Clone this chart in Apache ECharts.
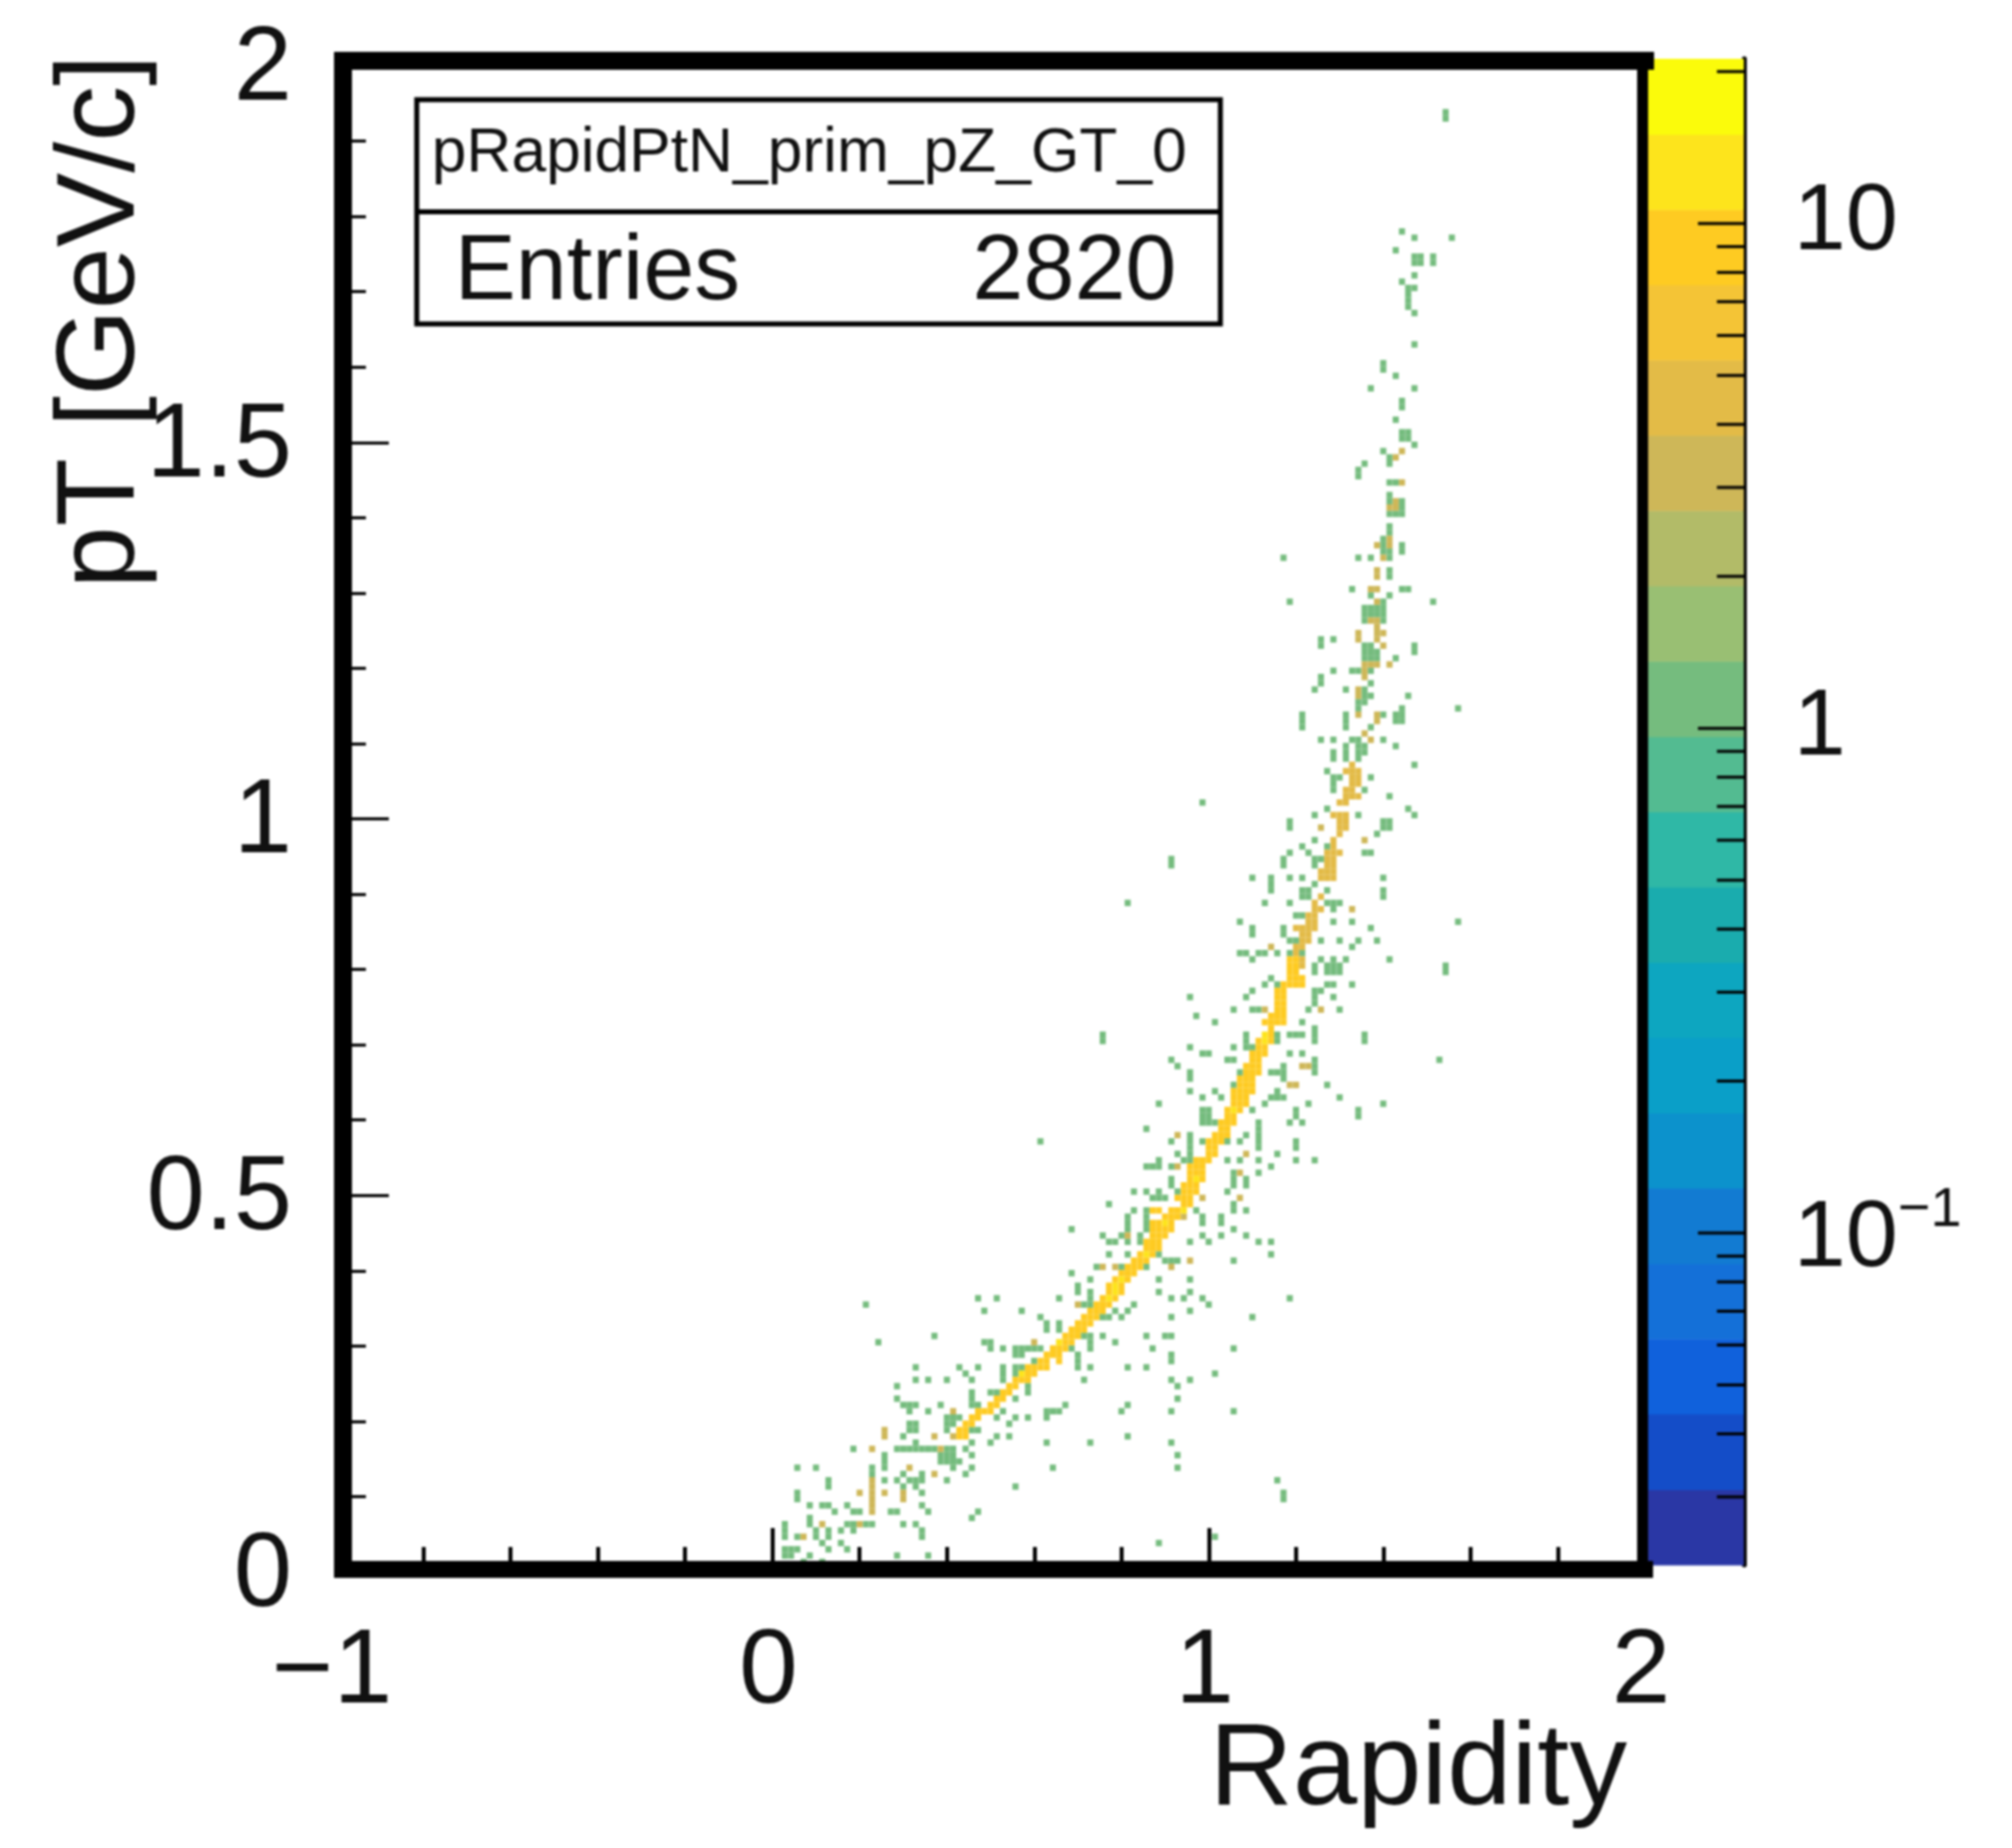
<!DOCTYPE html>
<html><head><meta charset="utf-8">
<style>html,body{margin:0;padding:0;background:#fff}#chart{width:2018px;height:1854px;filter:blur(1.1px)}</style>
<script src="https://cdn.jsdelivr.net/npm/echarts@6/dist/echarts.min.js"></script>
</head><body><div id="chart"></div>
<script>
// Histogram cells: [rapidity, pT], grouped by bin content
const cellsCount1 = [
[1.541,1.933],[1.541,1.925],[1.442,1.776],[1.471,1.768],[1.557,1.768],[1.427,1.751],[1.471,1.739],[1.485,1.739],[1.471,1.733],[1.485,1.733],[1.513,1.742],[1.513,1.734],[1.471,1.718],[1.442,1.710],[1.457,1.701],[1.471,1.701],[1.457,1.692],[1.457,1.684],[1.457,1.676],[1.471,1.668],[1.471,1.628],[1.398,1.602],[1.398,1.594],[1.427,1.586],[1.371,1.569],[1.471,1.569],[1.442,1.554],[1.442,1.544],[1.427,1.528],[1.442,1.511],[1.457,1.511],[1.442,1.503],[1.457,1.503],[1.471,1.495],[1.398,1.487],[1.413,1.478],[1.413,1.470],[1.356,1.470],[1.342,1.462],[1.342,1.454],[1.413,1.445],[1.427,1.445],[1.413,1.429],[1.413,1.420],[1.442,1.420],[1.442,1.412],[1.413,1.404],[1.427,1.404],[1.442,1.404],[1.427,1.396],[1.413,1.387],[1.413,1.378],[1.398,1.370],[1.398,1.362],[1.413,1.354],[1.398,1.354],[1.442,1.362],[1.442,1.354],[1.442,1.346],[1.398,1.346],[1.413,1.338],[1.342,1.338],[1.371,1.338],[1.413,1.329],[1.413,1.320],[1.413,1.313],[1.328,1.304],[1.371,1.304],[1.442,1.304],[1.457,1.304],[1.371,1.288],[1.413,1.288],[1.398,1.280],[1.185,1.280],[1.513,1.280],[1.356,1.273],[1.371,1.273],[1.385,1.273],[1.398,1.273],[1.356,1.264],[1.371,1.264],[1.385,1.264],[1.398,1.264],[1.356,1.256],[1.398,1.256],[1.171,1.345],[1.256,1.230],[1.256,1.222],[1.285,1.230],[1.471,1.224],[1.471,1.216],[1.356,1.225],[1.371,1.225],[1.356,1.217],[1.371,1.217],[1.385,1.217],[1.356,1.209],[1.371,1.209],[1.385,1.209],[1.427,1.205],[1.285,1.189],[1.328,1.189],[1.342,1.189],[1.371,1.189],[1.256,1.180],[1.256,1.172],[1.241,1.164],[1.313,1.164],[1.371,1.175],[1.356,1.164],[1.356,1.156],[1.371,1.156],[1.342,1.148],[1.356,1.148],[1.342,1.139],[1.457,1.156],[1.570,1.139],[1.400,1.130],[1.214,1.130],[1.214,1.122],[1.214,1.115],[1.313,1.130],[1.313,1.122],[1.313,1.115],[1.442,1.139],[1.442,1.130],[1.442,1.122],[1.427,1.130],[1.427,1.122],[1.371,1.113],[1.256,1.098],[1.285,1.098],[1.398,1.098],[1.328,1.098],[1.342,1.098],[1.356,1.106],[1.427,1.089],[1.313,1.089],[1.313,1.081],[1.313,1.073],[1.342,1.089],[1.356,1.089],[1.342,1.081],[1.356,1.081],[1.342,1.073],[1.285,1.080],[1.285,1.072],[1.471,1.064],[1.270,1.056],[1.285,1.047],[1.285,1.040],[1.285,1.030],[1.299,1.047],[1.371,1.047],[1.356,1.037],[1.356,1.030],[1.413,1.024],[0.984,1.015],[1.270,1.007],[1.457,1.007],[1.471,0.998],[1.241,0.998],[1.342,0.998],[1.185,0.990],[1.185,0.982],[1.313,0.987],[1.398,0.990],[1.413,0.990],[1.398,0.982],[1.413,0.982],[1.385,0.974],[1.241,0.965],[1.214,0.957],[1.228,0.949],[1.185,0.949],[1.270,0.957],[1.307,0.949],[1.356,0.949],[1.371,0.949],[1.171,0.940],[1.171,0.932],[1.241,0.940],[1.256,0.940],[1.241,0.932],[1.099,0.916],[1.185,0.916],[1.214,0.916],[1.398,0.916],[1.142,0.916],[1.142,0.908],[1.142,0.900],[1.228,0.900],[1.214,0.899],[1.228,0.891],[1.214,0.891],[1.241,0.908],[1.398,0.900],[1.398,0.892],[1.270,0.900],[0.813,0.883],[0.914,0.940],[0.914,0.932],[1.128,0.883],[1.185,0.883],[1.270,0.880],[1.285,0.880],[1.299,0.880],[1.285,0.872],[1.285,0.860],[1.214,0.865],[1.200,0.865],[1.328,0.858],[1.070,0.858],[1.570,0.857],[1.099,0.850],[1.099,0.840],[1.171,0.850],[1.171,0.840],[1.185,0.834],[1.200,0.834],[1.371,0.849],[1.385,0.833],[1.299,0.833],[1.328,0.825],[1.342,0.833],[1.250,0.832],[1.070,0.817],[1.085,0.817],[1.099,0.808],[1.113,0.820],[1.128,0.820],[1.157,0.817],[1.214,0.817],[1.185,0.817],[1.241,0.800],[1.241,0.792],[1.256,0.808],[1.270,0.800],[1.285,0.800],[1.299,0.800],[1.285,0.808],[1.270,0.792],[1.285,0.792],[1.299,0.792],[1.313,0.808],[1.413,0.808],[1.541,0.800],[1.541,0.792],[1.142,0.784],[1.124,0.774],[1.157,0.774],[1.270,0.775],[1.285,0.775],[1.328,0.775],[1.241,0.766],[1.256,0.766],[1.241,0.758],[1.241,0.750],[1.100,0.766],[1.085,0.756],[1.099,0.743],[1.113,0.743],[1.285,0.756],[1.299,0.743],[1.228,0.743],[0.956,0.756],[1.057,0.743],[0.970,0.733],[1.013,0.726],[1.214,0.728],[1.241,0.720],[1.241,0.712],[1.241,0.704],[1.200,0.705],[1.214,0.705],[1.185,0.705],[0.757,0.705],[0.757,0.697],[1.356,0.705],[1.356,0.697],[1.085,0.708],[1.085,0.700],[1.085,0.692],[1.099,0.690],[1.157,0.708],[1.157,0.700],[0.956,0.693],[1.057,0.693],[1.000,0.684],[0.986,0.684],[1.185,0.684],[1.214,0.684],[1.042,0.676],[1.057,0.676],[0.914,0.676],[0.928,0.667],[1.241,0.676],[1.241,0.667],[1.241,0.655],[1.528,0.676],[1.171,0.668],[1.171,0.660],[1.171,0.652],[1.157,0.662],[1.070,0.657],[1.142,0.655],[0.956,0.660],[0.956,0.652],[1.270,0.643],[0.956,0.635],[1.013,0.635],[1.028,0.627],[0.984,0.627],[1.142,0.627],[1.157,0.635],[1.171,0.627],[1.157,0.627],[1.057,0.642],[1.299,0.627],[1.128,0.618],[0.885,0.618],[1.228,0.618],[1.398,0.618],[1.342,0.610],[1.342,0.600],[1.099,0.606],[1.200,0.610],[0.985,0.610],[1.000,0.610],[0.985,0.600],[1.000,0.600],[0.985,0.594],[1.000,0.594],[1.013,0.590],[1.185,0.592],[1.214,0.592],[1.200,0.600],[0.856,0.585],[0.613,0.570],[0.613,0.563],[1.113,0.594],[1.113,0.586],[1.113,0.578],[1.113,0.570],[1.113,0.560],[1.085,0.576],[1.200,0.570],[1.200,0.560],[0.914,0.564],[0.956,0.576],[0.956,0.568],[0.956,0.560],[0.956,0.552],[0.956,0.540],[0.990,0.564],[1.042,0.564],[1.070,0.564],[1.157,0.551],[0.928,0.551],[0.942,0.538],[0.956,0.538],[0.856,0.535],[0.870,0.535],[0.885,0.535],[0.885,0.543],[1.042,0.543],[1.070,0.543],[1.113,0.543],[1.200,0.543],[1.241,0.543],[0.914,0.535],[1.142,0.535],[1.113,0.527],[1.057,0.526],[1.057,0.518],[1.057,0.510],[1.085,0.520],[1.085,0.512],[0.914,0.518],[0.914,0.511],[0.827,0.502],[0.856,0.502],[1.042,0.502],[0.885,0.500],[0.870,0.493],[0.885,0.493],[0.900,0.493],[0.928,0.500],[0.771,0.486],[1.057,0.485],[1.057,0.478],[1.085,0.478],[0.827,0.477],[0.812,0.470],[0.812,0.462],[0.812,0.450],[0.856,0.477],[0.856,0.468],[0.856,0.460],[0.856,0.450],[0.970,0.477],[0.984,0.470],[0.984,0.460],[1.028,0.470],[1.028,0.460],[0.686,0.452],[0.757,0.445],[1.057,0.452],[1.085,0.445],[0.984,0.445],[1.028,0.445],[0.800,0.445],
[0.684,0.453],[0.756,0.444],[0.815,0.454],[0.815,0.441],[0.815,0.430],[0.815,0.420],[0.797,0.443],[0.780,0.436],[0.771,0.430],[0.771,0.420],[0.837,0.440],[0.837,0.430],[0.837,0.420],[0.837,0.413],[0.885,0.430],[0.885,0.420],[0.957,0.436],[0.985,0.441],[0.999,0.436],[1.029,0.444],[1.057,0.452],[1.086,0.444],[1.112,0.436],[1.143,0.430],[1.143,0.420],[1.057,0.411],[0.898,0.410],[0.912,0.410],[0.933,0.410],[0.740,0.396],[0.793,0.399],[0.863,0.396],[0.684,0.388],[0.697,0.379],[0.697,0.370],[0.727,0.381],[0.727,0.370],[0.727,0.360],[0.727,0.352],[0.771,0.374],[0.784,0.361],[0.784,0.344],[0.885,0.381],[0.885,0.368],[0.957,0.381],[0.957,0.370],[0.942,0.361],[0.914,0.361],[0.985,0.361],[1.003,0.353],[1.185,0.361],[0.513,0.361],[0.469,0.355],[0.482,0.345],[0.570,0.345],[0.656,0.361],[0.214,0.353],[0.701,0.346],[0.714,0.346],[0.727,0.346],[0.832,0.353],[0.815,0.345],[0.758,0.337],[0.771,0.337],[0.793,0.337],[0.914,0.337],[0.957,0.345],[1.099,0.337],[0.618,0.337],[0.631,0.328],[0.631,0.320],[0.656,0.328],[0.656,0.320],[0.371,0.312],[0.242,0.304],[0.487,0.304],[0.500,0.304],[0.500,0.295],[0.526,0.295],[0.583,0.295],[0.714,0.310],[0.727,0.310],[0.758,0.310],[0.727,0.304],[0.727,0.295],[0.784,0.304],[0.857,0.312],[0.898,0.312],[0.914,0.312],[0.870,0.295],[1.057,0.295],[0.914,0.286],[0.914,0.277],[0.557,0.290],[0.557,0.280],[0.557,0.270],[0.557,0.260],[0.570,0.290],[0.570,0.280],[0.570,0.270],[0.570,0.260],[0.600,0.288],[0.618,0.288],[0.600,0.275],[0.600,0.260],[0.697,0.286],[0.697,0.277],[0.679,0.295],[0.727,0.270],[0.701,0.263],[0.714,0.254],[0.815,0.270],[0.857,0.270],[1.013,0.262],[0.327,0.270],[0.327,0.254],[0.355,0.254],[0.430,0.263],[0.443,0.255],[0.472,0.263],[0.399,0.246],[0.460,0.246],[0.460,0.236],[0.460,0.228],[0.460,0.220],[0.473,0.220],[0.526,0.270],[0.526,0.260],[0.526,0.250],[0.585,0.242],[0.585,0.230],[0.557,0.238],[0.557,0.225],[0.500,0.233],[0.514,0.233],[0.500,0.220],[0.514,0.225],[0.284,0.238],[0.284,0.228],[0.303,0.220],[0.329,0.220],[0.316,0.213],[0.316,0.205],[0.386,0.220],[0.355,0.205],[0.622,0.212],[0.637,0.212],[0.656,0.212],[0.670,0.220],[0.815,0.220],[0.802,0.212],[0.914,0.246],[0.928,0.238],[0.928,0.227],[0.957,0.246],[0.914,0.212],[1.057,0.212],[0.517,0.196],[0.552,0.196],[0.543,0.189],[0.543,0.178],[0.585,0.196],[0.628,0.196],[0.530,0.205],[0.508,0.172],[0.497,0.164],[0.628,0.164],[0.727,0.164],[0.815,0.172],[0.914,0.164],[0.928,0.147],[0.928,0.137],[0.642,0.130],[0.557,0.105],[1.156,0.114],[1.171,0.096],[1.171,0.088],[0.469,0.072],[0.456,0.065],[0.885,0.031],[1.010,0.041],
[0.399,0.198],[0.412,0.198],[0.399,0.190],[0.412,0.190],[0.399,0.180],[0.425,0.198],[0.452,0.185],[0.469,0.185],[0.452,0.170],[0.320,0.189],[0.335,0.189],[0.320,0.180],[0.335,0.180],[0.303,0.172],[0.333,0.165],[0.185,0.155],[0.281,0.155],[0.295,0.155],[0.310,0.155],[0.325,0.155],[0.340,0.155],[0.360,0.162],[0.372,0.162],[0.400,0.162],[0.385,0.155],[0.400,0.155],[0.412,0.155],[0.400,0.147],[0.412,0.147],[0.385,0.147],[0.400,0.140],[0.412,0.140],[0.425,0.140],[0.385,0.140],[0.443,0.156],[0.456,0.147],[0.456,0.137],[0.415,0.130],[0.443,0.122],[0.399,0.113],[0.255,0.150],[0.255,0.140],[0.255,0.130],[0.227,0.130],[0.227,0.122],[0.294,0.123],[0.347,0.123],[0.347,0.113],[0.330,0.113],[0.315,0.113],[0.300,0.105],[0.260,0.114],[0.285,0.114],[0.330,0.105],[0.343,0.096],[0.343,0.087],[0.055,0.096],[0.055,0.088],[0.055,0.130],[0.100,0.130],[0.128,0.114],[0.128,0.105],[0.084,0.080],[0.115,0.080],[0.130,0.080],[0.141,0.072],[0.172,0.080],[0.180,0.072],[0.195,0.072],[0.268,0.072],[0.290,0.072],[0.355,0.072],[0.300,0.056],[0.327,0.056],[0.342,0.048],[0.342,0.040],[0.176,0.056],[0.190,0.056],[0.210,0.056],[0.233,0.056],[0.084,0.063],[0.084,0.055],[0.027,0.056],[0.027,0.048],[0.027,0.040],[0.053,0.044],[0.100,0.048],[0.130,0.048],[0.100,0.040],[0.130,0.040],[0.115,0.032],[0.163,0.046],[0.163,0.036],[0.180,0.048],[0.176,0.025],[0.027,0.024],[0.042,0.024],[0.053,0.024],[0.027,0.016],[0.042,0.016],[0.084,0.020],[0.071,0.006],[0.128,0.022],[0.115,0.008],[0.285,0.014],[0.355,0.014]
];
const cellsCount3 = [
[1.442,1.487],[1.427,1.478],[1.442,1.445],[1.427,1.420],[1.413,1.412],[1.427,1.412],[1.413,1.370],[1.413,1.362],[1.385,1.362],[1.398,1.338],[1.385,1.329],[1.385,1.320],[1.371,1.297],[1.385,1.297],[1.385,1.280],[1.371,1.256],[1.385,1.256],[1.385,1.248],[1.342,1.240],[1.385,1.240],[1.398,1.240],[1.342,1.232],[1.385,1.232],[1.398,1.225],[1.371,1.197],[1.385,1.197],[1.356,1.197],[1.413,1.197],[1.356,1.189],[1.356,1.180],[1.342,1.164],[1.342,1.156],[1.342,1.130],[1.385,1.130],[1.385,1.122],[1.356,1.106],[1.371,1.098],[1.256,0.987],[1.299,0.987],[1.356,0.965],[1.328,0.874],[1.142,0.825],[1.128,0.743],[1.256,0.738],[1.214,0.667],[1.228,0.667],[1.185,0.643],[1.200,0.643],[0.928,0.576],[1.085,0.551],[0.928,0.535],[1.070,0.528],[0.984,0.494],[1.070,0.494],[0.820,0.445],
[0.915,0.403],[0.957,0.408],[0.754,0.403],[0.784,0.403],[0.701,0.352],[0.599,0.304],[0.415,0.205],[0.255,0.185],[0.255,0.178],[0.227,0.155],[0.373,0.172],[0.408,0.172],[0.385,0.162],[0.369,0.123],[0.227,0.114],[0.227,0.105],[0.227,0.097],[0.227,0.088],[0.227,0.080],[0.227,0.072],[0.312,0.130],[0.299,0.100],[0.299,0.090],[0.255,0.097],[0.200,0.097],[0.197,0.056],[0.068,0.044],[0.112,0.056],[0.942,0.466]
];
const cellsCount5 = [
[1.342,1.056],[1.328,1.056],[1.313,1.056],[1.328,1.047],[1.328,1.065],[1.313,1.022],[1.328,1.022],[1.342,1.022],[1.299,1.014],[1.313,1.014],[1.285,0.999],[1.299,0.999],[1.313,0.999],[1.299,0.971],[1.285,0.957],[1.285,0.949],[1.270,0.940],[1.285,0.940],[1.270,0.932],[1.285,0.932],[1.256,0.924],[1.285,0.924],[1.256,0.916],[1.270,0.916],[1.285,0.916],[1.245,0.883],[1.228,0.870],[1.241,0.870],[1.228,0.862],[1.241,0.862],[1.214,0.854],[1.228,0.854],[1.241,0.854],[1.228,0.832],[1.200,0.817],
[1.214,0.800],[1.214,0.809],[1.214,0.825],[1.200,0.825],[1.214,0.834],[1.228,0.842],[1.214,0.842],[1.200,0.850],[1.214,0.846],[1.228,0.846],[1.241,0.878],[1.256,0.878],[1.256,0.890],[1.270,0.924],[1.270,0.948],[1.299,0.950],[1.285,0.965],[1.299,0.980],[1.313,0.980],[1.299,0.990],[1.313,0.990],[1.328,1.030],[1.313,1.030],[1.328,1.038],[1.342,1.038],[1.342,1.047]
];
const cellsCount8 = [
[1.185,0.809],[1.200,0.809],[1.185,0.800],[1.200,0.800],[1.185,0.792],[1.200,0.792],[1.185,0.784],[1.200,0.784],[1.214,0.784],[1.185,0.776],[1.200,0.776],[1.214,0.776],[1.157,0.766],[1.171,0.766],[1.157,0.758],[1.171,0.758],[1.157,0.750],[1.171,0.750],[1.157,0.742],[1.171,0.742],[1.142,0.734],[1.157,0.734],[1.171,0.734],[1.128,0.726],[1.142,0.726],[1.157,0.726],[1.171,0.726],[1.142,0.718],[1.128,0.712],[1.142,0.712],[1.113,0.704],[1.113,0.696],[1.128,0.696],[1.113,0.688],[1.128,0.688],[1.099,0.676],[1.113,0.676],[1.085,0.668],[1.099,0.668],[1.085,0.660],[1.099,0.660],[1.113,0.660],[1.070,0.652],[1.085,0.652],[1.099,0.652],[1.070,0.644],[1.085,0.644],[1.099,0.644],[1.070,0.636],[1.057,0.628],[1.070,0.628],[1.085,0.628],[1.057,0.620],[1.070,0.620],[1.085,0.620],[1.070,0.612],[1.042,0.590],[1.057,0.590],[1.028,0.582],[1.042,0.582],[1.013,0.574],[1.028,0.574],[1.013,0.566],[1.028,0.566],[1.000,0.558],[1.013,0.558],[1.000,0.550],[0.985,0.542],[1.000,0.542],[0.956,0.530],[0.970,0.530],[0.985,0.530],[0.956,0.522],[0.970,0.522],[0.985,0.522],[0.956,0.514],[0.970,0.514],[0.956,0.498],[0.970,0.498],[0.928,0.490],[0.942,0.490],[0.942,0.482],[0.956,0.482],[0.870,0.476],[0.885,0.476],[0.900,0.470],[0.914,0.470],[0.928,0.470],[0.885,0.462],[0.900,0.462],[0.914,0.462],[0.870,0.456],[0.870,0.449],[0.885,0.449],[0.900,0.449],
[0.885,0.453],[0.900,0.453],[0.870,0.445],[0.885,0.445],[0.860,0.437],[0.875,0.437],[0.850,0.428],[0.865,0.428],[0.840,0.420],[0.855,0.420],[0.825,0.412],[0.840,0.412],[0.810,0.403],[0.825,0.403],[0.800,0.395],[0.815,0.395],[0.785,0.387],[0.800,0.387],[0.775,0.378],[0.790,0.378],[0.765,0.370],[0.780,0.370],[0.755,0.361],[0.770,0.361],[0.740,0.353],[0.755,0.353],[0.725,0.345],[0.740,0.345],[0.715,0.337],[0.730,0.337],[0.700,0.328],[0.715,0.328],[0.685,0.320],[0.700,0.320],[0.675,0.312],[0.690,0.312],[0.660,0.303],[0.675,0.303],[0.645,0.295],[0.660,0.295],[0.630,0.286],[0.645,0.286],[0.620,0.278],[0.635,0.278],[0.605,0.270],[0.620,0.270],[0.590,0.263],[0.605,0.263],[0.570,0.255],[0.585,0.255],[0.555,0.250],[0.570,0.250],[0.540,0.242],[0.555,0.242],[0.525,0.233],[0.540,0.233],[0.510,0.225],[0.525,0.225],[0.505,0.217],[0.520,0.217],[0.490,0.210],[0.505,0.210],[0.475,0.205],[0.490,0.205],[0.460,0.198],[0.474,0.198],[0.445,0.190],[0.460,0.190],[0.430,0.185],[0.445,0.185],[0.430,0.178],[0.445,0.178],
[0.585,0.250],[0.600,0.255],[0.620,0.263],[0.635,0.270],[0.650,0.278],[0.660,0.286],[0.675,0.295],[0.690,0.303],[0.705,0.312],[0.715,0.320],[0.730,0.328],[0.745,0.337],[0.755,0.345],[0.770,0.353],[0.785,0.361],[0.795,0.370],[0.805,0.378],[0.815,0.387],[0.830,0.395],[0.840,0.403],[0.855,0.412],[0.870,0.420],[0.880,0.428],[0.890,0.437],[0.900,0.445],[0.915,0.453],
[0.914,0.478],[0.928,0.478],[0.942,0.474],[0.956,0.490],[0.942,0.498],[0.956,0.506],[0.970,0.506],[0.942,0.506],[0.985,0.514],[0.985,0.538],[0.970,0.538],[1.013,0.550],[1.000,0.566],[1.042,0.574],[1.028,0.590],[1.042,0.598],[1.057,0.598],[1.057,0.605],[1.070,0.605],[1.042,0.605],[1.099,0.636],[1.085,0.636],[1.057,0.636],[1.113,0.668],[1.099,0.684],[1.113,0.680],[1.128,0.680],[1.142,0.704],[1.171,0.775]
];
const cellsCount15 = [
[1.128,0.704],[1.057,0.612],[0.942,0.474],[0.770,0.361],[0.780,0.370],[0.790,0.378],[0.800,0.387],[0.855,0.420],[0.900,0.462],[0.970,0.514],[1.128,0.712],[0.660,0.303],[0.575,0.255]
];
const rapidityTicks = [-1, 0, 1, 2];
const pTTicks = [0, 0.5, 1, 1.5, 2];
// Colour palette: band edges of bin content and their colours, lowest first
const bandEdges = [0.022,0.031,0.0438,0.0617,0.087,0.1227,0.1729,0.2438,0.3437,0.4846,0.6833,0.963,1.358,1.914,2.699,3.804,5.363,7.56,10.66,15.02,21.2];
const bandColors = ['#2a37a5','#144dc8','#1061dc','#1470d8','#127bd2','#0c92cc','#0a9fc8','#0da6c0','#1aacae','#2fb8a6','#53bb91','#75bc7e','#99bf73','#b2bb68','#ceb758','#e3bb47','#f4c436','#fecb22','#fde41c','#fbfb0b'];
const paletteTicks = [0.03,0.04,0.05,0.06,0.07,0.08,0.09,0.1,0.2,0.3,0.4,0.5,0.6,0.7,0.8,0.9,1,2,3,4,5,6,7,8,9,10,20];
const paletteMajor = [0.1, 1, 10];
const statsTitle = 'pRapidPtN_prim_pZ_GT_0';
const statsLabel = 'Entries';
const statsEntries = '2820';

// fill histogram bins (bin size 1/70 in rapidity, 1/120 in pT); pT plotted at the bin centre
const bins = new Map();
[[cellsCount1,1],[cellsCount3,3],[cellsCount5,5],[cellsCount8,8],[cellsCount15,15]].forEach(([cells,n])=>{
  cells.forEach(([r,p])=>{
    const i=Math.round(r*70), j=Math.round(p*120), k=i+'_'+j;
    const cur=bins.get(k);
    if(!cur||cur[2]<n) bins.set(k,[i/70,(j+0.6)/120,n]);
  });
});
const heat=[...bins.values()].sort((a,b)=>a[2]-b[2]);
const FONT='"Liberation Sans", Arial, sans-serif';
const chart=echarts.init(document.getElementById('chart'),null,{renderer:'canvas'});
const rect=(x,y,w,h)=>({type:'rect',z:50,silent:true,shape:{x,y,width:w,height:h},style:{fill:'#000'}});
const txt=(x,y,t,size,extra)=>Object.assign({type:'text',z:60,silent:true,x,y,style:Object.assign({text:t,font:size+'px '+FONT,fill:'#111',textVerticalAlign:'middle'},extra||{})});
chart.setOption({
  backgroundColor:'#fff',animation:false,
  grid:[{left:337,top:66,width:1313,height:1511,show:false},{left:1653,top:59,width:96,height:1511,show:false}],
  visualMap:{show:false,type:'piecewise',seriesIndex:0,dimension:2,pieces:bandColors.map((c,i)=>({gte:bandEdges[i],lt:bandEdges[i+1],color:c}))},
  xAxis:[{gridIndex:0,type:'value',min:rapidityTicks[0],max:rapidityTicks[3],interval:1,
    axisLine:{show:false,onZero:false},splitLine:{show:false},
    axisTick:{show:true,inside:true,length:44,lineStyle:{color:'#000',width:4}},
    minorTick:{show:true,splitNumber:5,length:25,lineStyle:{color:'#000',width:4}},
    axisLabel:{color:'#111',fontFamily:FONT,fontSize:106,margin:49,padding:[0,8,0,0],showMinLabel:true,showMaxLabel:true,formatter:v=>String(v).replace('-','\u2212')}},
    {gridIndex:1,type:'value',min:0,max:1,show:false}],
  yAxis:[{gridIndex:0,type:'value',min:pTTicks[0],max:pTTicks[4],interval:0.5,
    axisLine:{show:false,onZero:false},splitLine:{show:false},
    axisTick:{show:true,inside:true,length:53,lineStyle:{color:'#000',width:3}},
    minorTick:{show:true,splitNumber:5,length:30,lineStyle:{color:'#000',width:3}},
    axisLabel:{color:'#111',fontFamily:FONT,margin:44,showMinLabel:true,showMaxLabel:true,formatter:v=>'{a|'+v+'}',
      rich:{a:{fontFamily:FONT,fontSize:105,color:'#111',padding:[10,0,0,0]}}}},
    {gridIndex:1,type:'log',logBase:10,min:0.022,max:21.2,position:'right',
    axisLine:{show:true,onZero:false,lineStyle:{color:'#000',width:5}},axisTick:{show:false},splitLine:{show:false},
    axisLabel:{color:'#111',fontFamily:FONT,fontSize:94,margin:50,showMinLabel:false,showMaxLabel:false,
      formatter:v=>{const e=Math.log10(v);if(Math.abs(e-Math.round(e))>1e-6)return '';const n=Math.round(e);return n===1?'10':n===0?'1':n===-1?'{d|10}{s|\u22121}':'';},
      rich:{d:{fontFamily:FONT,fontSize:94,color:'#111',padding:[14,0,0,0]},s:{fontFamily:FONT,fontSize:56,color:'#111',padding:[0,0,44,0]}}}}],
  series:[
    {type:'scatter',xAxisIndex:0,yAxisIndex:0,data:heat,symbol:'rect',symbolSize:[6.1,6.4],silent:true,z:3,itemStyle:{opacity:1}},
    {type:'custom',xAxisIndex:1,yAxisIndex:1,silent:true,z:2,clip:false,
     data:bandColors.map((c,i)=>[0,bandEdges[i],1,bandEdges[i+1],i]),
     renderItem:(p,api)=>{const a=api.coord([0,api.value(1)]),b=api.coord([1,api.value(3)]);
       return {type:'rect',shape:{x:a[0],y:b[1],width:b[0]-a[0],height:a[1]-b[1]+0.5},style:{fill:bandColors[api.value(4)]}};}},
    {type:'custom',xAxisIndex:1,yAxisIndex:1,silent:true,z:4,clip:false,
     data:paletteTicks.map(v=>[1,v]),
     renderItem:(p,api)=>{const v=api.value(1),a=api.coord([1,v]),len=paletteMajor.includes(v)?46:27;
       return {type:'line',shape:{x1:a[0],y1:a[1],x2:a[0]-len,y2:a[1]},style:{stroke:'#000',lineWidth:3}};}}
  ],
  graphic:[
    rect(335,52,1324,18),rect(335,52,18,1531),rect(335,1566,1323,17),rect(1642,52,11,1531),
    {type:'rect',z:50,silent:true,shape:{x:418,y:100,width:806,height:225},style:{fill:'#fff',stroke:'#000',lineWidth:5}},
    rect(418,210,806,5),
    txt(433,155,statsTitle,62.5),
    txt(456,275,statsLabel,92),
    txt(1180,275,statsEntries,92,{textAlign:'right'}),
    txt(1632,1778,'Rapidity',116,{textAlign:'right'}),
    {type:'text',z:60,silent:true,x:103,y:55,rotation:Math.PI/2,style:{text:'pT [GeV/c]',font:'112px '+FONT,fill:'#111',textAlign:'right',textVerticalAlign:'middle'}}
  ]
});
</script></body></html>
